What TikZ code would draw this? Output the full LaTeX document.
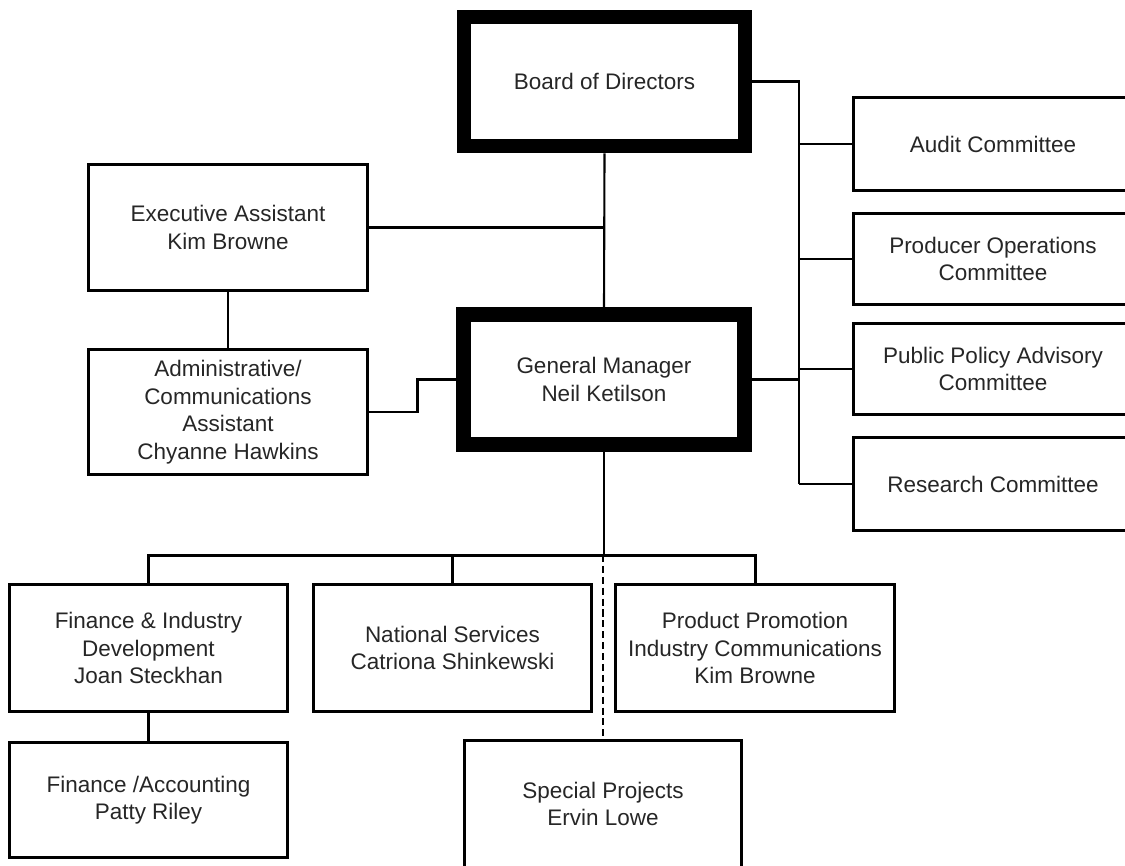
\documentclass[tikz,border=0pt]{standalone}
\usepackage{fontspec}
\setmainfont{Liberation Sans}
\newcommand\unitfont{\fontsize{12.8}{15.7}\selectfont}
\tikzset{
	unit/.style={draw, rectangle, line width=1.7pt, align=center, inner sep=0pt, text=black!85, font=\unitfont},
	head/.style={unit, line width=8.3pt},
	link/.style={line width=1.2pt},
	branch/.style={line width=1.7pt},
	dotlink/.style={line width=1.2pt, dash pattern=on 4pt off 2.2pt}
}
\begin{document}
\begin{tikzpicture}[x=.02cm, y=-.02cm]
	\useasboundingbox (0,0) rectangle (1125,865);
	\node[head, minimum width=5.62cm, minimum height=2.58cm] (board) at (604.5,81.5) {Board of Directors};
	\node[head, minimum width=5.63cm, minimum height=2.6cm] (gm) at (604,379.5) {General Manager\\Neil Ketilson};
	\node[unit, minimum width=5.58cm, minimum height=2.52cm] (exec) at (228,227.5) {Executive Assistant\\Kim Browne};
	\node[unit, minimum width=5.58cm, minimum height=2.5cm] (admin) at (228,412) {Administrative/\\Communications\\Assistant\\Chyanne Hawkins};
	\node[unit, minimum width=5.6cm, minimum height=1.86cm] (audit) at (993,144) {Audit Committee};
	\node[unit, minimum width=5.6cm, minimum height=1.82cm] (prodops) at (993,259) {Producer Operations\\Committee};
	\node[unit, minimum width=5.6cm, minimum height=1.82cm] (policy) at (993,369) {Public Policy Advisory\\Committee};
	\node[unit, minimum width=5.6cm, minimum height=1.86cm] (research) at (993,484) {Research Committee};
	\node[unit, minimum width=5.56cm, minimum height=2.54cm] (fin) at (148.5,648) {Finance \& Industry\\Development\\Joan Steckhan};
	\node[unit, minimum width=5.56cm, minimum height=2.54cm] (natl) at (452.5,648) {National Services\\Catriona Shinkewski};
	\node[unit, minimum width=5.58cm, minimum height=2.54cm] (promo) at (755,648) {Product Promotion\\Industry Communications\\Kim Browne};
	\node[unit, minimum width=5.56cm, minimum height=2.3cm] (acct) at (148.5,800) {Finance /Accounting\\Patty Riley};
	\node[unit, minimum width=5.54cm, minimum height=2.55cm] (special) at (603,804) {Special Projects\\Ervin Lowe};
	\coordinate (ctop) at (799,81.5);
	\coordinate (cbot) at (799,484);
	\coordinate (elbow) at (417,412);
	\coordinate (split) at (604,555);
	\draw[link] (board.south) -- (gm.north);
	\draw[link] (exec.east) -- (exec.east -| board.south);
	\draw[link] (exec.south) -- (admin.north);
	\draw[branch] (admin.east) -- (elbow) |- (gm.west);
	\draw[link] (board.east) -- (ctop) -- (cbot);
	\foreach \c in {audit,prodops,policy,research}
		\draw[branch] (\c.west) -- (\c.west -| ctop);
	\draw[branch] (gm.east) -- (gm.east -| ctop);
	\draw[link] (gm.south) -- (split);
	\draw[branch] (fin.north) |- (split) -| (promo.north);
	\draw[link] (natl.north) -- (natl.north |- split);
	\draw[branch] (fin.south) -- (acct.north);
	\draw[dotlink] (split -| special.north) -- (special.north);
\end{tikzpicture}
\end{document}
